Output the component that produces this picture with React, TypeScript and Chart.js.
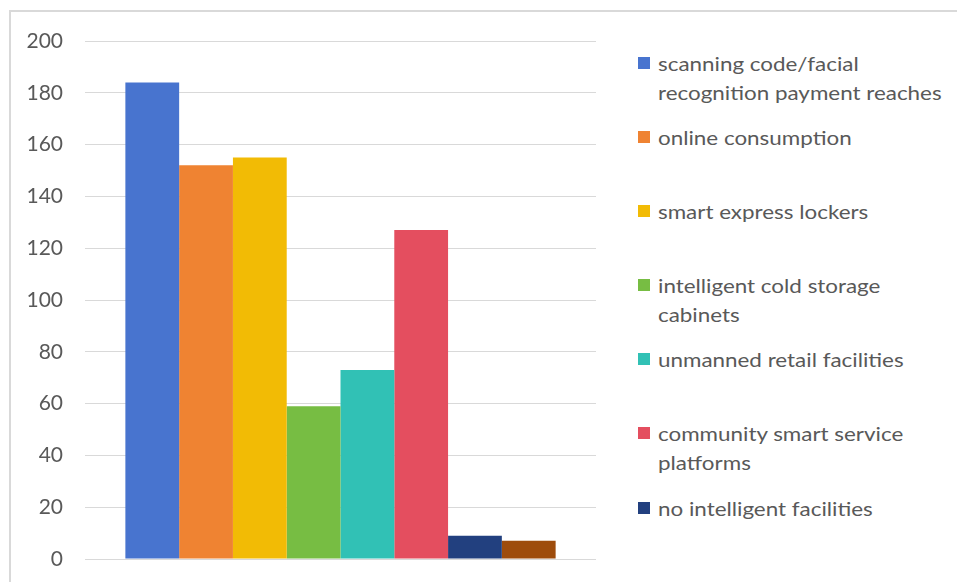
import React, { useEffect, useRef } from "react";
import { Chart, registerables } from "chart.js";

Chart.register(...registerables);

const seriesNames: string[] = [
  "scanning code/facial recognition payment reaches",
  "online consumption",
  "smart express lockers",
  "intelligent cold storage cabinets",
  "unmanned retail facilities",
  "community smart service platforms",
  "no intelligent facilities",
  "other",
];
const legendLines: string[][] = [
  ["scanning code/facial", "recognition payment reaches"],
  ["online consumption"],
  ["smart express lockers"],
  ["intelligent cold storage", "cabinets"],
  ["unmanned retail facilities"],
  ["community smart service", "platforms"],
  ["no intelligent facilities"],
];
const seriesValues: number[] = [184, 152, 155, 59, 73, 127, 9, 7];
const seriesColors: string[] = [
  "#4874CF",
  "#EF8332",
  "#F2BB05",
  "#77BD43",
  "#31C1B5",
  "#E44E5F",
  "#22407F",
  "#9E4C0C",
];
const yTicks: number[] = [0, 20, 40, 60, 80, 100, 120, 140, 160, 180, 200];

const FONT = "Lato, 'Open Sans', sans-serif";
const TEXT = "#595959";

export default function App() {
  const ref = useRef<HTMLCanvasElement | null>(null);

  useEffect(() => {
    document.body.style.margin = "0";
    document.body.style.overflow = "hidden";
    if (!ref.current) return;
    const chart = new Chart(ref.current, {
      type: "bar",
      data: {
        labels: [""],
        datasets: seriesNames.map((name, i) => ({
          label: name,
          data: [seriesValues[i]],
          backgroundColor: seriesColors[i],
          borderWidth: 0,
          categoryPercentage: 0.842,
          barPercentage: 1,
        })),
      },
      options: {
        animation: false,
        responsive: false,
        maintainAspectRatio: false,
        layout: { padding: { top: 33, right: 12, bottom: 23, left: 0 } },
        plugins: {
          legend: { display: false },
          tooltip: { enabled: false },
          title: { display: false },
        },
        scales: {
          x: { display: false },
          y: {
            min: 0,
            max: 200,
            afterFit: (s: any) => {
              s.width = 77;
              s.paddingTop = 0;
              s.paddingBottom = 0;
            },
            afterBuildTicks: (s: any) => {
              s.ticks = yTicks.map((v) => ({ value: v }));
            },
            ticks: {
              padding: 22,
              color: TEXT,
              font: { family: FONT, size: 21 },
            },
            grid: { color: "#d9d9d9", lineWidth: 1, drawTicks: false },
            border: { display: false },
          },
        },
      },
    });
    return () => chart.destroy();
  }, []);

  const itemTops = [63, 137, 211, 285, 359, 433, 508];

  return (
    <div style={{ position: "relative", width: 957, height: 582, overflow: "hidden", background: "#fff" }}>
      <div
        style={{
          position: "absolute",
          left: 9,
          top: 10,
          width: 948,
          height: 572,
          borderLeft: "2px solid #d9d9d9",
          borderTop: "2px solid #d9d9d9",
          boxSizing: "border-box",
        }}
      />
      <canvas ref={ref} width={600} height={574} style={{ position: "absolute", left: 8, top: 8 }} />
      {legendLines.map((lines, i) => (
        <div key={i} style={{ position: "absolute", left: 0, top: 0 }}>
          <div
            style={{
              position: "absolute",
              left: 638,
              top: itemTops[i] - 6,
              width: 12,
              height: 12,
              background: seriesColors[i],
            }}
          />
          {lines.map((t, j) => (
            <div
              key={j}
              style={{
                position: "absolute",
                left: 658,
                top: itemTops[i] - 15 + j * 29,
                height: 30,
                lineHeight: "30px",
                whiteSpace: "nowrap",
                fontFamily: FONT,
                fontSize: 20,
                color: TEXT,
                transform: "scaleX(1.12)",
                transformOrigin: "left center",
              }}
            >
              {t}
            </div>
          ))}
        </div>
      ))}
    </div>
  );
}
